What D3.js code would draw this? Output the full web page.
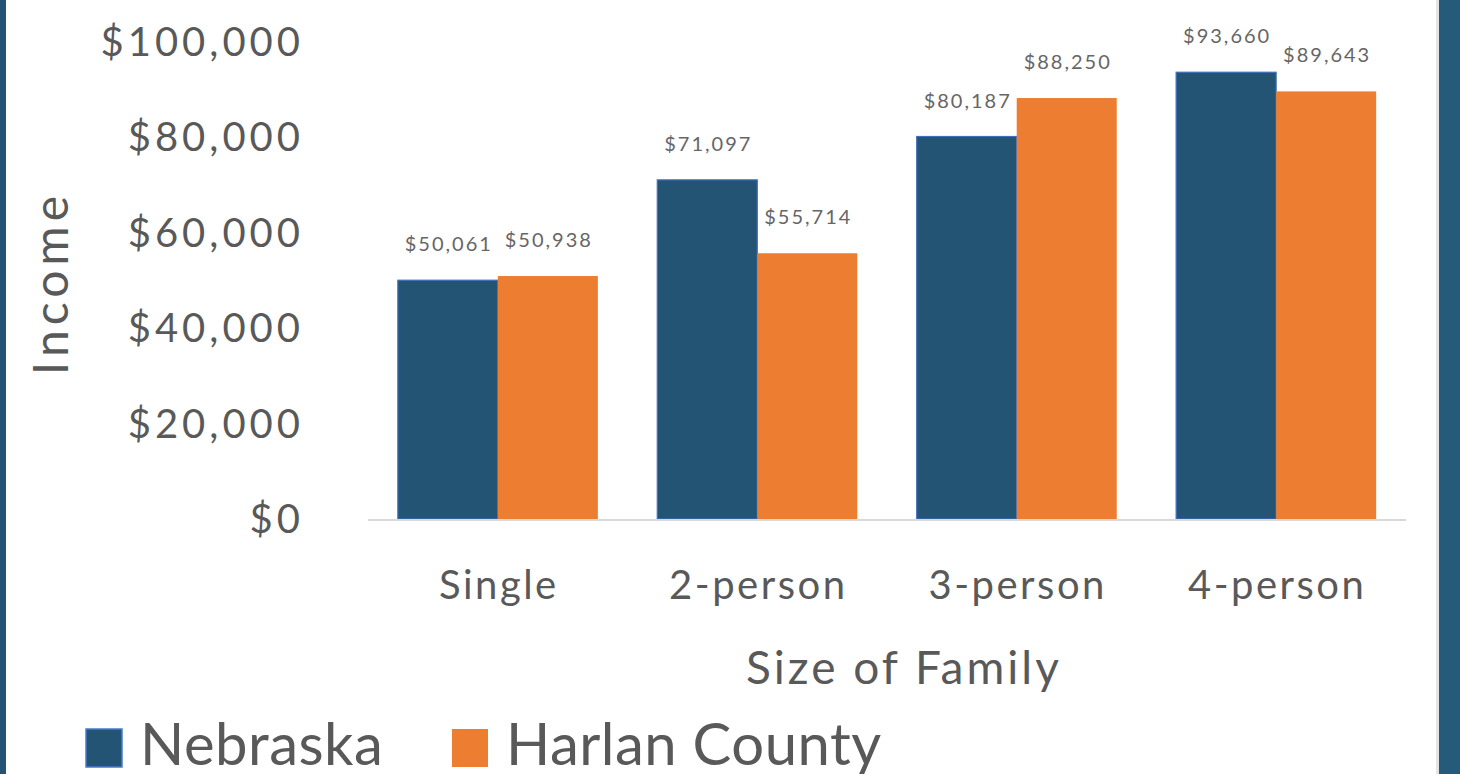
<!DOCTYPE html>
<html lang="en">
<head>
    <meta charset="UTF-8">
    <title>Income by size of family</title>
    <script src="https://d3js.org/d3.v7.min.js"></script>
    <style>
        body { margin: 0; background: #fff; }
        text { font-family: Lato, "Open Sans", sans-serif; fill: #595959; }
    </style>
</head>
<body>
<svg height="774" width="1460"></svg>

<script>
    const categories = ["Single", "2-person", "3-person", "4-person"];
    const series     = ["Nebraska", "Harlan County"];
    const nebraska   = [50061, 71097, 80187, 93660];
    const harlan     = [50938, 55714, 88250, 89643];
    const yTicks     = [0, 20000, 40000, 60000, 80000, 100000];
    const colors     = ["#235473", "#ed7d31"];

    const svg = d3.select("svg");

    // frame edges
    svg.append("rect").attr("x", 0).attr("y", 0).attr("width", 6).attr("height", 774).style("fill", "#235473");
    svg.append("rect").attr("x", 1439).attr("y", 0).attr("width", 21).attr("height", 774).style("fill", "#265a7b");
    svg.append("rect").attr("x", 1436).attr("y", 0).attr("width", 3).attr("height", 774).style("fill", "#e4e4e4");

    const x = d3.scaleBand()
        .domain(categories)
        .range([368, 1406])
        .paddingInner(0.229)
        .paddingOuter(0.115);

    const xs = d3.scaleBand().domain(series).range([0, x.bandwidth()]);

    const y = d3.scaleLinear().domain([0, 100000]).range([519, 42]);

    const fmt = d3.format("$,");

    // y tick labels
    svg.selectAll("text.ytick")
       .data(yTicks)
          .join("text").attr("class", "ytick")
            .attr("x", 304)
            .attr("y", d => y(d))
            .attr("dy", "0.35em")
            .attr("text-anchor", "end")
            .style("font-size", "40px")
            .style("letter-spacing", "4px")
            .text(d => fmt(d));

    const rows = categories.map((c, i) => ({cat: c, values: [nebraska[i], harlan[i]]}));

    const groups = svg.selectAll("g.group")
        .data(rows)
        .join("g").attr("class", "group")
          .attr("transform", d => `translate(${x(d.cat)},0)`);

    groups.selectAll("rect")
        .data(d => d.values.map((v, j) => ({s: series[j], v: v, j: j})))
        .join("rect")
          .attr("x", d => xs(d.s))
          .attr("y", d => y(d.v))
          .attr("width", xs.bandwidth())
          .attr("height", d => y(0) - y(d.v))
          .style("fill", d => colors[d.j])
          .style("stroke", d => d.j === 0 ? "#3f6fbf" : "none")
          .style("stroke-width", 1.2);

    groups.selectAll("text.label")
        .data(d => d.values.map((v, j) => ({s: series[j], v: v, j: j})))
        .join("text").attr("class", "label")
          .attr("x", d => xs(d.s) + xs.bandwidth() / 2 + 1)
          .attr("y", d => y(d.v) - 29)
          .attr("text-anchor", "middle")
          .style("font-size", "20px")
          .style("letter-spacing", "2px")
          .style("fill", "#666")
          .text(d => fmt(d.v));

    // x axis line
    svg.append("line")
       .attr("x1", 368).attr("x2", 1406)
       .attr("y1", y(0) + 1).attr("y2", y(0) + 1)
       .style("stroke", "#d9d9d9").style("stroke-width", 2);

    svg.selectAll("text.xtick")
       .data(categories)
          .join("text").attr("class", "xtick")
            .attr("x", d => x(d) + x.bandwidth() / 2 + 1)
            .attr("y", 599)
            .attr("text-anchor", "middle")
            .style("font-size", "40px")
            .style("letter-spacing", "2.5px")
            .text(d => d);

    // axis titles
    svg.append("text")
       .attr("x", 904).attr("y", 684)
       .attr("text-anchor", "middle")
       .style("font-size", "46px")
       .style("letter-spacing", "3px")
       .text("Size of Family");

    svg.append("text")
       .attr("transform", "translate(68,283) rotate(-90)")
       .attr("text-anchor", "middle")
       .style("font-size", "48px")
       .style("letter-spacing", "5px")
       .text("Income");

    // legend
    const legendX = [86, 452];
    const legend = svg.selectAll("g.legend")
        .data(series)
        .join("g").attr("class", "legend")
          .attr("transform", (d, i) => `translate(${legendX[i]},0)`);

    legend.append("rect")
        .attr("x", 0).attr("y", 729)
        .attr("width", 36).attr("height", 38)
        .style("fill", (d, i) => colors[i])
        .style("stroke", (d, i) => i === 0 ? "#4a7bd0" : "none")
        .style("stroke-width", 1.5);

    legend.append("text")
        .attr("x", 54).attr("y", 765)
        .style("font-size", "58px")
        .style("letter-spacing", "0.5px")
        .text(d => d);
</script>

</body>
</html>
